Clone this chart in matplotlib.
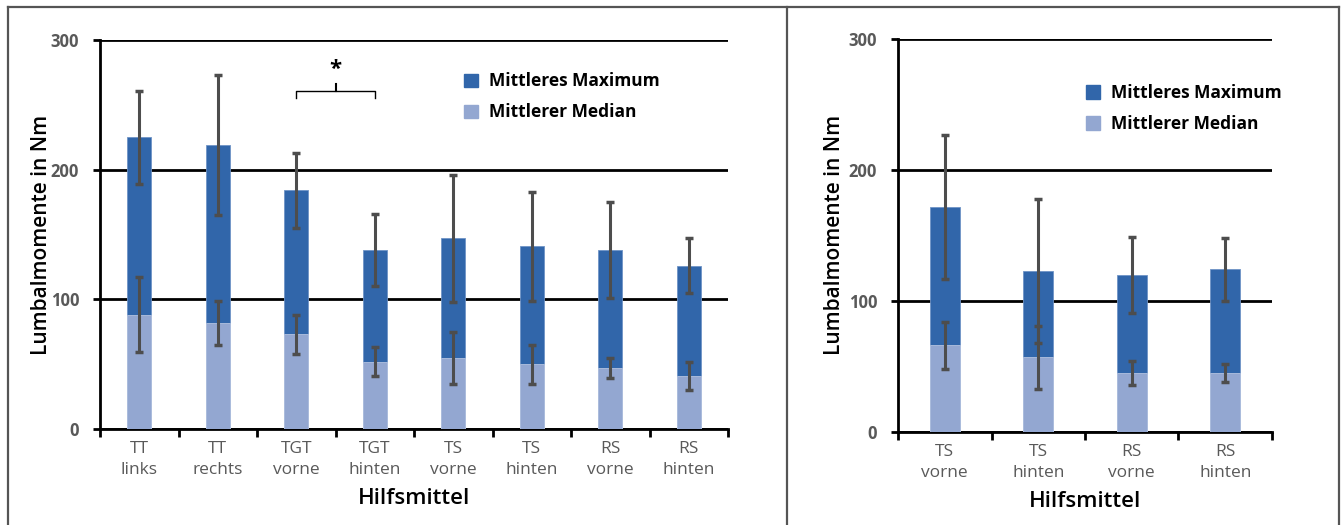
import matplotlib.pyplot as plt
import numpy as np
from matplotlib.lines import Line2D
from matplotlib.patches import Patch

# Linkes Diagramm
cats_left = ['TT\nlinks', 'TT\nrechts', 'TGT\nvorne', 'TGT\nhinten',
             'TS\nvorne', 'TS\nhinten', 'RS\nvorne', 'RS\nhinten']
max_left = [225, 219, 184, 138, 147, 141, 138, 126]
max_err_left = [36, 54, 29, 28, 49, 42, 37, 21]
med_left = [88, 82, 73, 52, 55, 50, 47, 41]
med_err_left = [29, 17, 15, 11, 20, 15, 8, 11]

# Rechtes Diagramm
cats_right = ['TS\nvorne', 'TS\nhinten', 'RS\nvorne', 'RS\nhinten']
max_right = [172, 123, 120, 124]
max_err_right = [55, 55, 29, 24]
med_right = [66, 57, 45, 45]
med_err_right = [18, 24, 9, 7]

C_MAX = '#3166AA'
C_MED = '#93A7D1'
C_ERR = '#4D4D4D'
C_TICK = '#595959'

plt.rcParams['font.family'] = ['Open Sans', 'DejaVu Sans']


def draw_panel(ax, cats, vmax, emax, vmed, emed, width, legend_anchor, ypad):
    x = np.arange(len(cats))
    ax.bar(x, vmax, width, color=C_MAX, edgecolor='#6F93C6', lw=0.6, zorder=3,
           label='Mittleres Maximum')
    ax.bar(x, vmed, width, color=C_MED, edgecolor='#B3C2E0', lw=0.6, zorder=4,
           label='Mittlerer Median')
    ax.errorbar(x, vmax, yerr=emax, fmt='none', ecolor=C_ERR, elinewidth=2.2,
                capsize=3.2, capthick=2.5, zorder=5)
    ax.errorbar(x, vmed, yerr=emed, fmt='none', ecolor=C_ERR, elinewidth=2.2,
                capsize=3.2, capthick=2.5, zorder=5)

    ax.set_xlim(-0.5, len(cats) - 0.5)
    ax.set_ylim(0, 300)
    ax.set_yticks([0, 100, 200, 300])
    ax.set_yticklabels(['0', '100', '200', '300'], fontsize=12, fontweight='bold', color=C_TICK)
    ax.yaxis.grid(True, color='black', lw=2, zorder=1)
    ax.set_axisbelow(True)

    ax.set_xticks(x)
    ax.set_xticklabels(cats, fontsize=12.5, color=C_TICK, linespacing=1.4)
    ax.set_xticks(np.arange(len(cats) + 1) - 0.5, minor=True)
    ax.tick_params(axis='x', which='major', length=0, pad=9)
    ax.tick_params(axis='x', which='minor', length=6, width=2, color='black')
    ax.tick_params(axis='y', length=5, width=2, color='black', pad=10)

    for s in ['top', 'right']:
        ax.spines[s].set_visible(False)
    ax.spines['left'].set_linewidth(2)
    ax.spines['bottom'].set_linewidth(2)

    ax.set_xlabel('Hilfsmittel', fontsize=16, fontweight='semibold', labelpad=7)
    ax.set_ylabel('Lumbalmomente in Nm', fontsize=15, fontweight='semibold', labelpad=ypad)

    handles = [Patch(color=C_MAX), Patch(color=C_MED)]
    leg = ax.legend(handles, ['Mittleres Maximum', 'Mittlerer Median'], loc='upper left',
                    bbox_to_anchor=legend_anchor, frameon=False, handlelength=0.8,
                    handleheight=0.8, handletextpad=0.6, labelspacing=0.75,
                    prop={'size': 12.5, 'weight': 'bold'})
    return leg


fig = plt.figure(figsize=(13.41, 5.25), dpi=100)
ax1 = fig.add_axes([0.0746, 0.1829, 0.4683, 0.7409])
ax2 = fig.add_axes([0.6697, 0.1777, 0.2788, 0.7480])

draw_panel(ax1, cats_left, max_left, max_err_left, med_left, med_err_left, 0.31,
           (0.555, 0.957), -1)
draw_panel(ax2, cats_right, max_right, max_err_right, med_right, med_err_right, 0.32,
           (0.462, 0.925), 3)

# Signifikanz-Klammer zwischen TGT vorne und TGT hinten
y0, y1 = 255, 261
ax1.plot([2, 2, 3, 3], [y0, y1, y1, y0], color='black', lw=1, zorder=6)
ax1.plot([2.5, 2.5], [y1, y1 + 5], color='black', lw=1.5, zorder=6)
ax1.text(2.5, 277, '*', ha='center', va='center', fontsize=16, fontweight='bold')

# Rahmen um beide Diagramme
W, H = 1341, 525
for xs, ys in [([8, 1339], [7, 7]), ([8, 8], [7, 525]), ([787, 787], [7, 525]),
               ([1339, 1339], [7, 525])]:
    fig.add_artist(Line2D([v / W for v in xs], [1 - v / H for v in ys],
                          color='#555555', lw=1.6, transform=fig.transFigure))

fig.savefig('out.png', dpi=100)
